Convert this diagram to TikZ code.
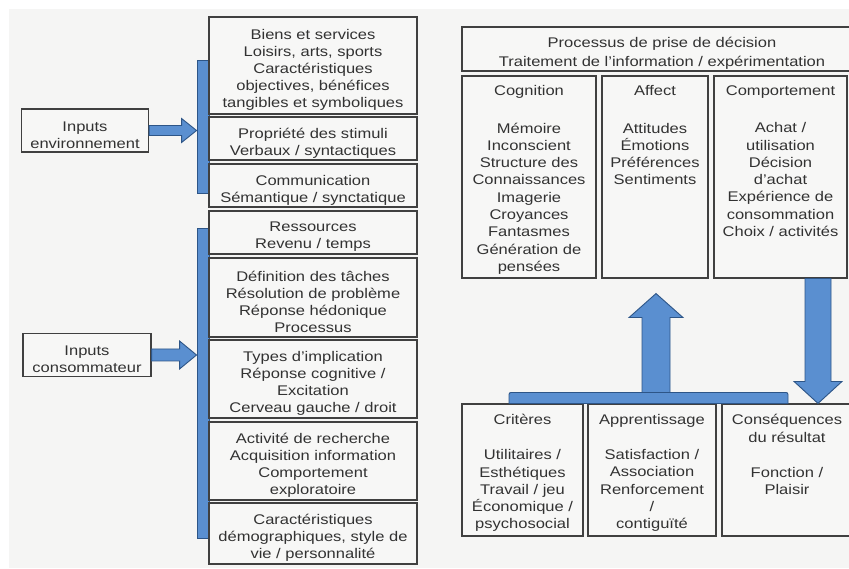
\documentclass[tikz,border=0pt]{standalone}
\usepackage{fontspec}
\setmainfont{Liberation Sans}[FakeStretch=1.18]
\usetikzlibrary{positioning,calc}
\definecolor{bggray}{RGB}{245,245,244}
\definecolor{boxfill}{RGB}{247,247,246}
\definecolor{boxedge}{RGB}{64,64,64}
\definecolor{txtgray}{RGB}{50,50,50}
\definecolor{arrowblue}{RGB}{90,143,208}
\definecolor{arrowedge}{RGB}{45,85,135}
\begin{document}
\begin{tikzpicture}[x=1pt,y=-1pt,
    box/.style={draw=boxedge, fill=boxfill, line width=1.1pt, inner sep=0pt},
    txt/.style={align=center, inner sep=2pt, text=txtgray,
      font=\fontsize{14}{17.3}\selectfont},
    mid/.style={txt, font=\fontsize{14}{17}\selectfont, yshift=-4.5pt},
    fat/.style={draw=arrowedge, fill=arrowblue, line width=0.9pt, line join=miter}]
    \clip (0,0) rectangle (849,569);
    \fill[white] (0,0) rectangle (849,569);
    \fill[bggray] (9,9) rectangle (849,568);

    % inputs on the left
    \node[box, minimum width=127, minimum height=43] (env) at (85,130.5) {};
    \node[box, minimum width=128, minimum height=43] (cons) at (87,355) {};
    \node[mid] (envt) at (env.center) {Inputs\\environnement};
    \node[mid] (const) at (cons.center) {Inputs\\consommateur};

    % blue brackets
    \node[fat, minimum width=12, minimum height=133, inner sep=0] (brk1) at (203,126.5) {};
    \node[fat, minimum width=12, minimum height=310, inner sep=0] (brk2) at (203,383) {};

    % environment column
    \node[box, minimum width=208, minimum height=97] (biens) at (313,65.5) {};
    \node[box, minimum width=208, minimum height=43] (prop) at (313,138.5) {};
    \node[box, minimum width=208, minimum height=43] (comm) at (313,185.5) {};
    \node[mid] (bienst) at (biens.center)
      {Biens et services\\Loisirs, arts, sports\\Caractéristiques\\objectives, bénéfices\\tangibles et symboliques};
    \node[mid] (propt) at (prop.center) {Propriété des stimuli\\Verbaux / syntactiques};
    \node[mid] (commt) at (comm.center) {Communication\\Sémantique / synctatique};

    % consumer column
    \node[box, minimum width=208, minimum height=43] (ress) at (313,232.5) {};
    \node[box, minimum width=208, minimum height=79] (taches) at (313,297.5) {};
    \node[box, minimum width=208, minimum height=78] (implic) at (313,379) {};
    \node[box, minimum width=208, minimum height=78] (recherche) at (313,461) {};
    \node[box, minimum width=208, minimum height=61] (demo) at (313,533.5) {};
    \node[mid] (resst) at (ress.center) {Ressources\\Revenu / temps};
    \node[mid] (tachest) at (taches.center)
      {Définition des tâches\\Résolution de problème\\Réponse hédonique\\Processus};
    \node[mid] (implict) at (implic.center)
      {Types d'implication\\Réponse cognitive /\\Excitation\\Cerveau gauche / droit};
    \node[mid] (recherchet) at (recherche.center)
      {Activité de recherche\\Acquisition information\\Comportement\\exploratoire};
    \node[mid] (demot) at (demo.center)
      {Caractéristiques\\démographiques, style de\\vie / personnalité};

    % fat arrows to the brackets
    \coordinate (e1) at (brk1.west |- env.east);
    \coordinate (c1) at (brk2.west |- cons.east);
    \draw[fat] ($(env.east)+(0,-5)$) -- ($(e1)+(-15,-5)$) -- ($(e1)+(-15,-12)$) -- (e1)
      -- ($(e1)+(-15,12)$) -- ($(e1)+(-15,5)$) -- ($(env.east)+(0,5)$) -- cycle;
    \draw[fat] ($(cons.east)+(0,-6)$) -- ($(c1)+(-17,-6)$) -- ($(c1)+(-17,-14)$) -- (c1)
      -- ($(c1)+(-17,14)$) -- ($(c1)+(-17,6)$) -- ($(cons.east)+(0,6)$) -- cycle;

    % decision process
    \node[box, minimum width=400, minimum height=44] (proc) at (662,49) {};
    \node[mid] (proct) at (proc.center)
      {Processus de prise de décision\\[2pt]Traitement de l'information / expérimentation};
    \node[box, minimum width=134, minimum height=202] (cog) at (529,177) {};
    \node[box, minimum width=106, minimum height=202] (aff) at (655,177) {};
    \node[box, minimum width=133, minimum height=202] (comp) at (780.5,177) {};
    \node[txt, below=8pt of cog.north] (cogt)
      {Cognition\\[20pt]Mémoire\\Inconscient\\Structure des\\Connaissances\\Imagerie\\Croyances\\Fantasmes\\Génération de\\pensées};
    \node[txt, below=8pt of aff.north] (afft)
      {Affect\\[20pt]Attitudes\\Émotions\\Préférences\\Sentiments};
    \node[txt, below=8pt of comp.north] (compt)
      {Comportement\\[20pt]Achat /\\utilisation\\Décision\\d'achat\\Expérience de\\consommation\\Choix / activités};

    % results
    \node[box, minimum width=121, minimum height=132] (crit) at (522.5,470) {};
    \node[box, minimum width=128, minimum height=132] (appr) at (652,470) {};
    \node[box, minimum width=130, minimum height=132] (csq) at (787,470) {};
    \node[txt, below=9pt of crit.north] (critt)
      {Critères\\[17.5pt]Utilitaires /\\Esthétiques\\Travail / jeu\\Économique /\\psychosocial};
    \node[txt, below=9pt of appr.north] (apprt)
      {Apprentissage\\[17.5pt]Satisfaction /\\Association\\Renforcement\\/\\contiguïté};
    \node[txt, below=9pt of csq.north] (csqt)
      {Conséquences\\du résultat\\[17.5pt]Fonction /\\Plaisir};

    % bar and arrows between the two rows
    \draw[fat, rounded corners=2pt] ($(crit.north)+(-13.5,0)$) -- ++(0,-11)
      -- ($(csq.north)+(1,-11)$) [sharp corners] -- ($(csq.north)+(1,0)$) -- cycle;
    \coordinate (up0) at ($(crit.north)+(133.5,-11)$);
    \coordinate (up1) at ($(aff.south)+(1,15)$);
    \draw[fat] ($(up0)+(-14,0)$) -- ($(up1)+(-14,24)$) -- ($(up1)+(-27,24)$) -- (up1)
      -- ($(up1)+(27,24)$) -- ($(up1)+(14,24)$) -- ($(up0)+(14,0)$) -- cycle;
    \coordinate (dn0) at ($(comp.south)+(37.5,0)$);
    \coordinate (dn1) at (dn0 |- csq.north);
    \draw[fat] ($(dn0)+(-13,0)$) -- ($(dn1)+(-13,-22)$) -- ($(dn1)+(-24,-22)$) -- (dn1)
      -- ($(dn1)+(24,-22)$) -- ($(dn1)+(13,-22)$) -- ($(dn0)+(13,0)$) -- cycle;
\end{tikzpicture}
\end{document}
